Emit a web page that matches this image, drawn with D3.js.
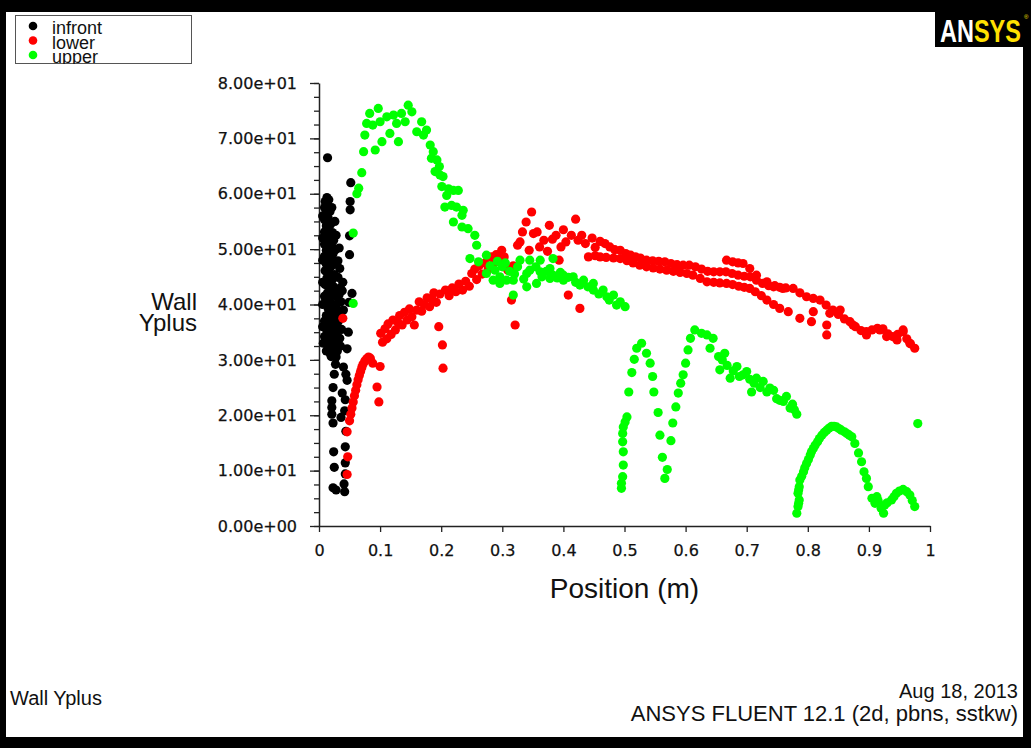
<!DOCTYPE html>
<html>
<head>
<meta charset="utf-8">
<script src="https://cdn.jsdelivr.net/npm/d3@7"></script>
<style>
  body { margin: 0; background: #000; }
  text { font-family: "Liberation Sans", Arial, sans-serif; }
</style>
</head>
<body>
<script>

// series: [position (m), wall y+]
var infront = [
  [0.014,66.5],[0.013,59.3],[0.010,58.6],[0.016,58.9],[0.009,57.5],[0.015,57.8],[0.011,56.4],[0.018,56.8],
  [0.009,55.3],[0.015,55.6],[0.012,54.2],[0.019,54.5],[0.009,53.1],[0.016,53.4],[0.022,53.0],[0.011,52.0],
  [0.018,52.3],[0.024,51.6],[0.009,50.9],[0.015,51.2],[0.021,50.5],[0.012,49.8],[0.019,49.4],[0.027,49.9],
  [0.009,48.7],[0.016,48.3],[0.024,48.0],[0.012,47.3],[0.020,46.9],[0.029,47.3],[0.010,46.1],[0.017,45.7],
  [0.025,45.4],[0.013,44.8],[0.021,44.4],[0.031,44.9],[0.010,43.6],[0.018,43.2],[0.026,42.8],[0.014,42.1],
  [0.022,41.7],[0.030,41.4],[0.011,40.8],[0.019,40.4],[0.027,40.0],[0.036,40.5],[0.015,39.3],[0.023,38.9],
  [0.031,38.5],[0.012,38.0],[0.020,37.6],[0.028,37.2],[0.036,37.8],[0.016,36.5],[0.024,36.1],[0.032,35.7],
  [0.013,35.2],[0.021,34.8],[0.029,34.4],[0.017,33.7],[0.025,33.3],[0.034,33.9],[0.015,32.3],[0.022,32.0],
  [0.030,31.6],[0.020,30.6],
  [0.006,56.0],[0.006,52.0],[0.006,48.0],[0.006,44.0],[0.006,40.0],[0.006,36.0],[0.007,33.0],[0.033,50.2],
  [0.034,46.5],[0.035,43.0],[0.038,42.5],[0.037,35.5],[0.035,32.5],[0.028,30.5],[0.018,31.2],[0.026,55.0],
  [0.021,57.5],[0.028,52.5],[0.031,47.9],[0.033,41.8],[0.040,39.0],[0.039,44.0],[0.025,38.0],[0.018,35.0],
  [0.027,35.2],[0.020,45.2],[0.014,50.4],[0.023,49.2],[0.017,38.6],[0.009,41.5],[0.009,37.0],[0.009,34.2],
  [0.024,43.2],[0.030,39.1],[0.022,36.9],[0.012,31.6],[0.026,32.8],[0.032,37.0],
  [0.052,62.0],[0.051,58.6],[0.051,57.1],[0.050,52.4],[0.050,49.0],[0.054,42.0],[0.049,40.4],[0.048,35.0],
  [0.046,32.0],[0.027,29.2],[0.025,27.4],[0.040,28.7],[0.044,27.4],[0.046,26.3],[0.023,25.0],[0.038,24.0],
  [0.043,22.8],[0.021,22.6],[0.021,21.4],[0.042,20.8],[0.021,20.2],[0.036,19.6],[0.023,18.6],[0.044,17.1],
  [0.024,13.4],[0.043,14.3],[0.025,10.6],[0.043,11.4],[0.043,9.4],[0.023,6.9],[0.028,6.5],[0.042,6.2],[0.041,7.6]
];

var lower = [
  [0.039,37.5],[0.046,17.0],[0.047,12.5],[0.046,9.3],
  [0.050,19.0],[0.052,20.2],[0.054,21.3],[0.056,22.4],[0.058,23.5],[0.060,24.5],[0.062,25.5],[0.064,26.4],
  [0.066,27.2],[0.068,27.9],[0.070,28.6],[0.072,29.2],[0.075,29.8],[0.078,30.2],[0.081,30.5],[0.084,30.3],
  [0.088,29.4],[0.100,28.8],[0.095,25.1],[0.098,22.4],
  [0.101,34.8],[0.104,33.2],[0.108,35.6],[0.111,33.8],[0.113,36.5],[0.118,34.6],[0.121,37.2],[0.125,35.4],
  [0.129,36.8],[0.132,38.0],[0.136,36.3],[0.140,38.6],[0.144,37.2],[0.148,39.2],[0.152,37.8],[0.156,36.3],
  [0.160,39.0],[0.164,40.5],[0.168,38.8],[0.172,40.0],[0.177,41.2],[0.181,39.6],[0.185,41.0],[0.188,42.1],
  [0.192,40.4],[0.196,36.0],[0.198,41.9],[0.202,32.7],[0.203,28.5],[0.207,42.6],[0.213,41.6],[0.218,43.0],
  [0.224,42.3],[0.229,43.7],[0.235,42.6],[0.240,44.2],[0.246,43.3],[0.250,45.6],[0.255,46.4],[0.258,44.5],
  [0.262,47.0],[0.267,45.5],[0.272,47.5],[0.277,46.4],[0.282,48.6],[0.286,47.4],[0.290,49.0],[0.295,48.4],
  [0.299,49.8],[0.303,48.6],[0.309,46.2],[0.315,40.8],[0.321,36.3],[0.318,47.0],[0.325,50.7],[0.329,51.3],
  [0.333,53.1],[0.339,54.9],[0.348,56.7],[0.344,49.8],[0.351,52.8],[0.357,53.1],[0.361,50.4],[0.368,51.6],
  [0.374,49.6],[0.377,54.3],[0.382,51.8],[0.388,52.5],[0.393,48.0],[0.396,50.4],[0.400,53.5],[0.404,51.3],
  [0.408,41.7],[0.413,52.5],[0.420,55.4],[0.424,51.6],[0.427,39.3],[0.430,52.5],[0.436,51.0],[0.441,48.6],
  [0.447,52.0],[0.452,50.3],
  [0.460,51.4],[0.468,51.0],[0.476,50.4],[0.484,49.9],[0.493,49.8],[0.502,49.2],[0.510,48.9],[0.518,48.6],
  [0.526,48.4],[0.536,48.0],[0.546,47.9],[0.556,47.8],[0.566,47.7],[0.576,47.4],[0.586,47.2],[0.596,47.1],
  [0.606,47.1],[0.616,46.8],[0.626,46.4],[0.636,46.0],[0.646,45.9],[0.656,45.9],[0.666,45.9],[0.676,45.6],
  [0.686,45.3],[0.696,45.1],[0.706,45.0],[0.716,44.4],[0.726,43.8],[0.736,43.4],[0.744,43.2],[0.754,43.1],
  [0.764,43.0],[0.776,42.9],[0.787,42.1],[0.798,41.4],[0.809,41.1],[0.820,40.8],[0.830,39.9],[0.841,39.0],
  [0.850,38.2],[0.860,37.4],[0.869,36.9],[0.878,36.0],[0.887,35.3],[0.896,35.1],[0.905,35.4],[0.914,35.7],
  [0.923,35.6],[0.931,34.7],[0.939,34.2],[0.947,34.6],[0.956,35.1],[0.962,33.8],[0.968,32.9],[0.975,32.1],
  [0.452,48.8],[0.460,48.6],[0.470,48.5],[0.482,48.4],[0.493,48.3],[0.504,47.9],[0.514,47.5],[0.525,47.1],
  [0.536,46.8],[0.547,46.6],[0.558,46.4],[0.569,46.2],[0.580,46.0],[0.591,45.8],[0.602,45.6],[0.612,45.3],
  [0.624,44.7],[0.635,44.1],[0.646,44.0],[0.656,43.9],[0.667,43.8],[0.677,43.6],[0.687,43.3],[0.696,43.1],
  [0.705,42.9],[0.714,42.3],[0.724,41.6],[0.733,40.8],[0.744,40.0],[0.754,39.3],[0.768,38.7],
  [0.667,48.0],[0.677,47.7],[0.686,47.5],[0.694,47.4],[0.705,46.5],[0.716,45.3],[0.733,44.1],[0.746,43.4],
  [0.759,42.9],[0.787,37.5],[0.806,36.9],[0.809,38.7],[0.831,36.3],[0.831,34.5],[0.836,38.4],[0.853,39.0],
  [0.874,36.3],[0.896,34.5],[0.918,35.4],[0.929,34.2],[0.946,33.6],[0.956,35.4],[0.967,33.0]
];

var upper = [
  [0.056,40.2],[0.056,52.9],[0.062,60.0],[0.065,61.0],[0.070,63.8],[0.073,67.6],[0.075,70.6],[0.078,72.7],
  [0.083,74.5],[0.092,67.9],[0.088,72.4],[0.097,75.4],[0.100,73.0],[0.103,69.4],[0.111,73.9],[0.116,70.9],
  [0.122,74.2],[0.130,69.4],[0.127,72.7],[0.135,74.5],[0.141,73.0],[0.146,76.0],[0.152,74.8],[0.160,71.2],
  [0.168,73.0],[0.171,70.6],[0.176,71.5],[0.182,68.8],[0.187,67.6],[0.184,66.4],[0.193,66.1],[0.197,64.9],
  [0.190,64.0],[0.198,63.4],[0.203,63.1],[0.201,61.3],[0.212,60.9],[0.220,60.6],[0.228,60.6],[0.209,59.7],
  [0.206,57.6],[0.217,57.9],[0.225,57.6],[0.236,57.0],[0.234,56.1],[0.220,54.9],[0.234,54.0],[0.244,53.7],
  [0.255,52.5],[0.258,50.7],[0.247,48.3],[0.261,47.7],[0.274,48.9],
  [0.274,45.6],[0.288,46.2],[0.296,45.0],[0.285,44.4],[0.307,44.4],[0.296,43.8],[0.318,44.4],[0.318,41.7],
  [0.329,48.0],[0.345,48.0],[0.362,48.0],[0.383,48.3],[0.340,45.6],[0.362,45.9],[0.378,46.5],[0.383,45.3],
  [0.356,43.8],[0.340,43.2],[0.378,44.7],[0.400,45.3],[0.416,45.0],[0.433,44.4],[0.449,43.8],[0.465,42.6],
  [0.482,41.7],[0.493,40.5],[0.501,39.6],[0.400,44.4],[0.427,43.5],[0.449,42.6],[0.471,41.4],[0.487,39.9],
  [0.280,47.0],[0.292,47.8],[0.300,46.8],[0.305,47.5],[0.312,46.0],[0.320,45.5],[0.325,46.8],[0.335,44.6],
  [0.345,46.2],[0.355,46.8],[0.365,45.0],[0.372,46.0],[0.390,44.8],[0.395,45.8],[0.408,44.9],[0.420,44.0],
  [0.440,43.2],[0.458,41.9],[0.475,40.8],
  [0.495,6.8],[0.495,7.7],[0.497,8.9],[0.498,11.0],[0.498,13.4],[0.497,15.2],[0.497,16.7],[0.498,17.9],
  [0.501,18.8],[0.504,19.7],[0.507,24.2],[0.512,27.7],[0.516,30.1],[0.520,32.1],[0.528,33.0],[0.536,31.2],
  [0.542,29.4],[0.546,27.0],[0.548,24.2],[0.555,20.5],[0.558,16.4],[0.562,12.4],[0.570,10.2],[0.566,8.6],
  [0.576,15.4],[0.579,18.6],[0.584,21.5],[0.588,24.0],[0.592,25.8],[0.596,27.3],[0.600,29.4],[0.604,31.8],
  [0.608,33.9],[0.615,35.4],[0.626,34.8],[0.635,34.5],[0.645,33.9],[0.640,32.1],[0.654,30.6],[0.664,31.2],
  [0.656,28.2],[0.673,26.7],[0.684,28.8],[0.694,27.3],[0.700,27.9],[0.708,24.2],[0.716,26.7],[0.727,26.1],
  [0.733,24.2],[0.744,24.5],[0.749,23.0],[0.754,22.7],[0.771,21.3],[0.782,20.2],
  [0.660,30.0],[0.668,29.0],[0.678,28.0],[0.688,27.0],[0.705,26.5],[0.712,25.8],[0.722,25.0],[0.738,24.9],
  [0.760,22.5],[0.765,23.4],[0.775,22.0],[0.778,21.0],
  [0.782,2.3],[0.784,3.5],[0.786,4.7],[0.784,5.9],[0.786,7.1],[0.787,8.3],[0.793,9.8],[0.798,11.3],
  [0.804,12.8],[0.809,14.0],[0.816,15.2],[0.823,16.4],[0.831,17.3],[0.839,18.0],[0.847,17.9],[0.855,17.3],
  [0.864,16.7],[0.872,16.1],[0.877,14.9],[0.883,13.2],[0.888,11.6],[0.892,9.8],[0.896,8.6],[0.899,7.1],
  [0.905,5.0],[0.913,5.3],[0.910,4.1],[0.924,2.3],[0.926,3.8],[0.937,4.7],[0.945,5.9],[0.956,6.6],
  [0.967,5.6],[0.975,3.5],[0.980,18.5],
  [0.785,4.1],[0.785,6.5],[0.790,9.0],[0.795,10.5],[0.801,12.0],[0.806,13.4],[0.812,14.6],[0.819,15.8],
  [0.827,16.9],[0.835,17.7],[0.843,18.0],[0.851,17.6],[0.860,17.0],[0.868,16.4],[0.915,4.6],[0.920,3.2],
  [0.930,4.2],[0.941,5.3],[0.950,6.3],[0.962,6.2],[0.971,4.6]
];

var seriesNames = ["infront", "lower", "upper"];
var seriesColors = ["#000000", "#ff0000", "#00ff00"];
var seriesData = [infront, lower, upper];

var yTicks = [0, 10, 20, 30, 40, 50, 60, 70, 80];
var yMinorTicks = d3.range(0, 80.1, 2.5);

var W = 1031, H = 748;
var margin = { top: 83, right: 101, bottom: 222, left: 319 };

var svg = d3.select("body")
  .append("svg")
  .attr("width", W)
  .attr("height", H);

// black frame round a white page
svg.append("rect").attr("width", W).attr("height", H).attr("fill", "#000");
svg.append("rect")
  .attr("x", 6).attr("y", 12)
  .attr("width", 1017).attr("height", 725)
  .attr("fill", "#fff");

var xScale = d3.scaleLinear()
  .domain([0, 1])
  .range([margin.left, W - margin.right]);

var yScale = d3.scaleLinear()
  .domain([0, 80])
  .range([H - margin.bottom, margin.top]);

function sciFormat(v) {
  var s = v.toExponential(2);
  var parts = s.split("e");
  var exp = parts[1];
  var sign = exp[0];
  var digits = exp.slice(1);
  if (digits.length < 2) digits = "0" + digits;
  return parts[0] + "e" + sign + digits;
}

// minor y ticks
svg.append("g")
  .attr("transform", `translate(${margin.left},0)`)
  .call(d3.axisLeft(yScale).tickValues(yMinorTicks).tickSize(5).tickFormat(""))
  .call(function(g) { g.select(".domain").remove(); })
  .selectAll("line").attr("stroke", "#222").attr("stroke-width", 1.3);

var yAxis = svg.append("g")
  .attr("transform", `translate(${margin.left},0)`)
  .call(d3.axisLeft(yScale).tickValues(yTicks).tickSize(9).tickSizeOuter(0).tickPadding(13).tickFormat(sciFormat));

var xAxis = svg.append("g")
  .attr("transform", `translate(0,${H - margin.bottom})`)
  .call(d3.axisBottom(xScale).ticks(10).tickSize(6).tickSizeOuter(0).tickPadding(13)
    .tickFormat(function(d) { return d3.format("~g")(d); }));

[xAxis, yAxis].forEach(function(g) {
  g.select(".domain").attr("stroke", "#222").attr("stroke-width", 1.5);
  g.selectAll(".tick line").attr("stroke", "#222").attr("stroke-width", 1.3);
  g.selectAll(".tick text")
    .attr("fill", "#111")
    .attr("stroke", "#111")
    .attr("stroke-width", 0.25)
    .style("font-family", "'DejaVu Sans', Verdana, sans-serif")
    .style("font-size", "16px");
});

// points
seriesData.forEach(function(data, i) {
  svg.append("g")
    .selectAll("circle")
    .data(data)
    .enter()
    .append("circle")
      .attr("cx", function(d) { return xScale(d[0]); })
      .attr("cy", function(d) { return yScale(d[1]); })
      .attr("r", 4.6)
      .attr("fill", seriesColors[i]);
});

// axis titles
var yTitle = svg.append("text")
  .attr("text-anchor", "end")
  .style("font-size", "24px")
  .attr("fill", "#111");
yTitle.append("tspan").attr("x", 197).attr("y", 310).text("Wall");
yTitle.append("tspan").attr("x", 197).attr("y", 331).text("Yplus");

svg.append("text")
  .attr("x", xScale(0.5))
  .attr("y", 598)
  .attr("text-anchor", "middle")
  .style("font-size", "28px")
  .attr("fill", "#111")
  .text("Position (m)");

// legend
var legend = svg.append("g");
legend.append("clipPath").attr("id", "legclip")
  .append("rect").attr("x", 15).attr("y", 15).attr("width", 177).attr("height", 49);
legend.append("rect")
  .attr("x", 15.5).attr("y", 15.5)
  .attr("width", 176).attr("height", 48)
  .attr("fill", "#fff")
  .attr("stroke", "#555");
var legItems = legend.append("g").attr("clip-path", "url(#legclip)")
  .selectAll("g")
  .data(seriesNames)
  .enter()
  .append("g")
  .attr("transform", function(d, i) { return `translate(0,${i * 14.5})`; });
legItems.append("circle")
  .attr("cx", 33).attr("cy", 26)
  .attr("r", 4.3)
  .attr("fill", function(d, i) { return seriesColors[i]; });
legItems.append("text")
  .attr("x", 52).attr("y", 34)
  .style("font-size", "18px")
  .attr("fill", "#111")
  .text(function(d) { return d; });

// ANSYS logo
svg.append("rect")
  .attr("x", 935).attr("y", 11)
  .attr("width", 96).attr("height", 36)
  .attr("fill", "#000");
var logo = svg.append("text")
  .attr("transform", "translate(940,42) scale(1,1.3)")
  .style("font-weight", "bold")
  .style("font-size", "23.5px");
logo.append("tspan").attr("fill", "#fff").text("AN");
logo.append("tspan").attr("fill", "#ffe000").text("SYS");
svg.append("text")
  .attr("x", 1024).attr("y", 19)
  .attr("fill", "#ffe000")
  .style("font-size", "6px")
  .text("®");

// footer
svg.append("text")
  .attr("x", 10).attr("y", 705)
  .style("font-size", "20px")
  .attr("fill", "#111")
  .text("Wall Yplus");
svg.append("text")
  .attr("x", 1018).attr("y", 698)
  .attr("text-anchor", "end")
  .style("font-size", "20px")
  .attr("fill", "#111")
  .text("Aug 18, 2013");
svg.append("text")
  .attr("x", 1018).attr("y", 721)
  .attr("text-anchor", "end")
  .style("font-size", "22px")
  .attr("fill", "#111")
  .text("ANSYS FLUENT 12.1 (2d, pbns, sstkw)");

</script>
</body>
</html>
